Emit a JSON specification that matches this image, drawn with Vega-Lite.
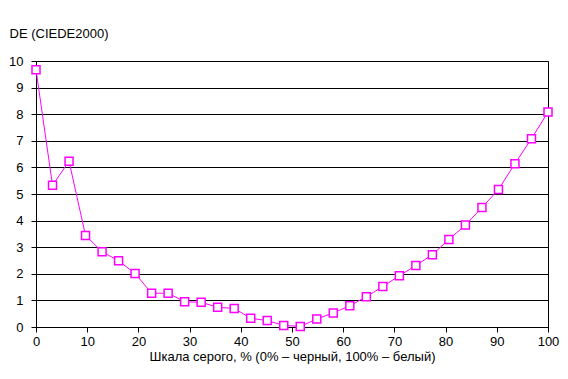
{
  "$schema": "https://vega.github.io/schema/vega-lite/v6.json",
  "autosize": {"type": "none"},
  "width": 512,
  "height": 266,
  "padding": {"left": 36, "top": 61, "right": 20, "bottom": 52},
  "background": "white",
  "config": {
    "font": "Liberation Sans",
    "view": {"stroke": "black", "strokeWidth": 1},
    "axis": {
      "labelFont": "Liberation Sans",
      "titleFont": "Liberation Sans",
      "labelFontSize": 13,
      "titleFontSize": 13,
      "titleFontWeight": "normal",
      "labelColor": "black",
      "titleColor": "black",
      "domainColor": "black",
      "tickColor": "black",
      "gridColor": "black",
      "gridOpacity": 1,
      "tickSize": 5
    }
  },
  "data": {
    "values": [
      {"gray": 0, "de": 9.67},
      {"gray": 3.226, "de": 5.33},
      {"gray": 6.452, "de": 6.23},
      {"gray": 9.677, "de": 3.44},
      {"gray": 12.903, "de": 2.83},
      {"gray": 16.129, "de": 2.49},
      {"gray": 19.355, "de": 2.01},
      {"gray": 22.581, "de": 1.27},
      {"gray": 25.806, "de": 1.27},
      {"gray": 29.032, "de": 0.95},
      {"gray": 32.258, "de": 0.93},
      {"gray": 35.484, "de": 0.74},
      {"gray": 38.71, "de": 0.7},
      {"gray": 41.935, "de": 0.33},
      {"gray": 45.161, "de": 0.24},
      {"gray": 48.387, "de": 0.06},
      {"gray": 51.613, "de": 0.02},
      {"gray": 54.839, "de": 0.3},
      {"gray": 58.065, "de": 0.53},
      {"gray": 61.29, "de": 0.8},
      {"gray": 64.516, "de": 1.14},
      {"gray": 67.742, "de": 1.52},
      {"gray": 70.968, "de": 1.93},
      {"gray": 74.194, "de": 2.31},
      {"gray": 77.419, "de": 2.72},
      {"gray": 80.645, "de": 3.29},
      {"gray": 83.871, "de": 3.83},
      {"gray": 87.097, "de": 4.49},
      {"gray": 90.323, "de": 5.17},
      {"gray": 93.548, "de": 6.14},
      {"gray": 96.774, "de": 7.08},
      {"gray": 100, "de": 8.08}
    ]
  },
  "encoding": {
    "x": {
      "field": "gray",
      "type": "quantitative",
      "scale": {"domain": [0, 100], "nice": false},
      "axis": {
        "values": [0, 10, 20, 30, 40, 50, 60, 70, 80, 90, 100],
        "grid": false,
        "labelPadding": 3,
        "labelFlush": false,
        "title": "Шкала серого, % (0% – черный, 100% – белый)",
        "titleY": 33,
        "titleBaseline": "alphabetic"
      }
    },
    "y": {
      "field": "de",
      "type": "quantitative",
      "scale": {"domain": [0, 10], "nice": false},
      "axis": {
        "values": [0, 1, 2, 3, 4, 5, 6, 7, 8, 9, 10],
        "grid": true,
        "labelPadding": 8,
        "labelFlush": false,
        "title": "DE (CIEDE2000)",
        "titleAngle": 0,
        "titleAlign": "left",
        "titleX": -27,
        "titleY": -24,
        "titleBaseline": "alphabetic"
      }
    }
  },
  "layer": [
    {"mark": {"type": "line", "color": "#FF00FF", "strokeWidth": 1}},
    {"mark": {"type": "point", "shape": "square", "size": 64, "filled": true, "fill": "white", "stroke": "#FF00FF", "strokeWidth": 1.5, "opacity": 1}}
  ]
}
